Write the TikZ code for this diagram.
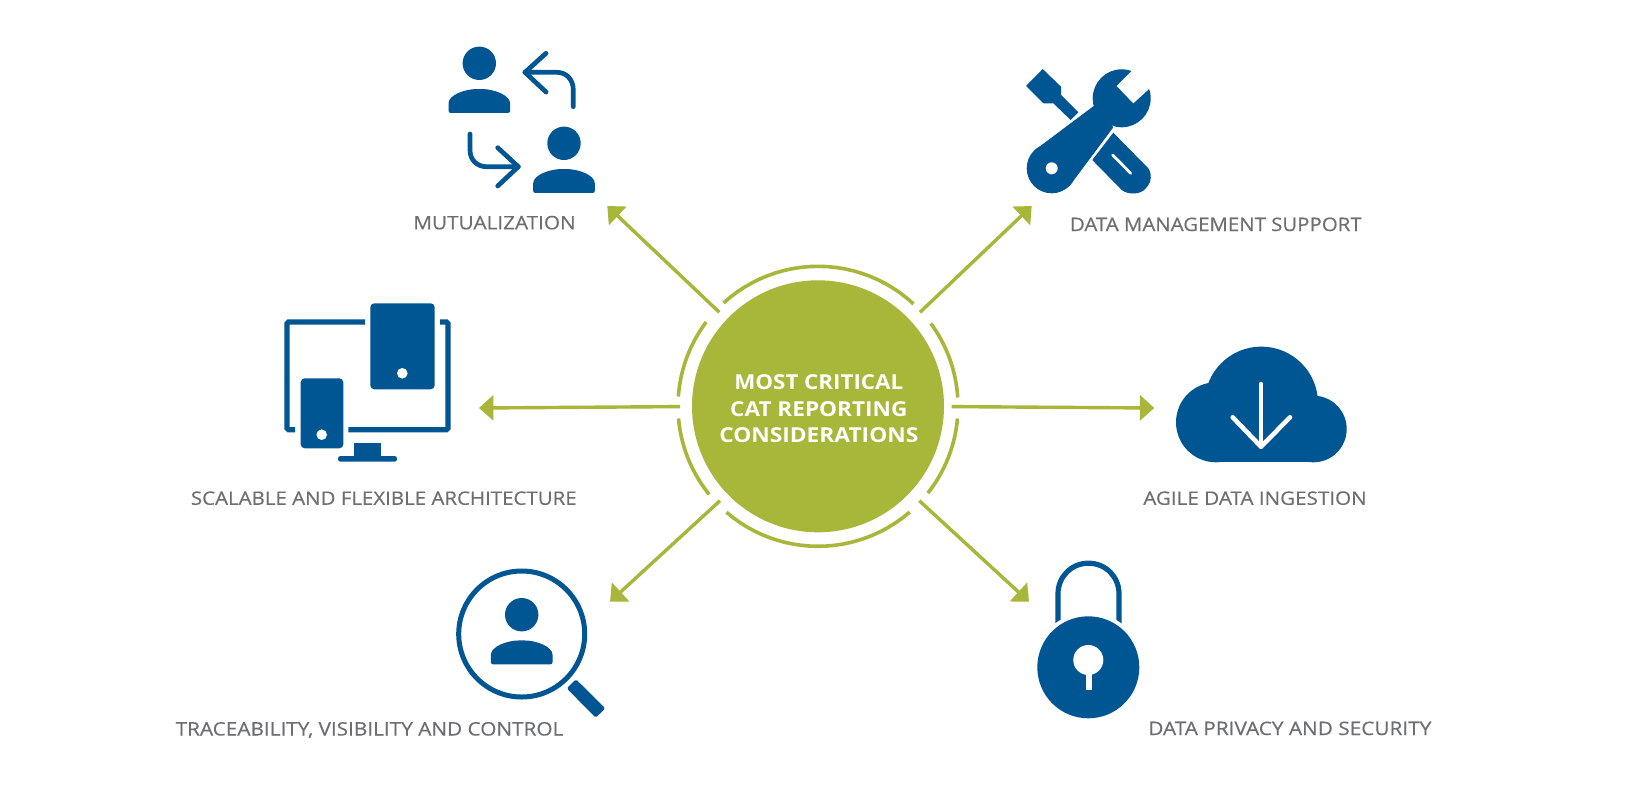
\documentclass[tikz,border=0pt]{standalone}
\usepackage{graphicx}
\usepackage{fontspec}
\setmainfont{Open Sans}
\newfontfamily\lblfont[FakeBold=0.3]{Open Sans}
\usetikzlibrary{arrows.meta}
\definecolor{iconblue}{HTML}{005693}
\definecolor{hubgreen}{HTML}{A8B639}
\definecolor{labelgray}{HTML}{6D6E71}
\newcommand{\fitw}[2]{\resizebox{#1pt}{\height}{#2}}
\tikzset{
  conn/.style={draw=hubgreen,line width=3.4pt,-{Triangle[length=14.4pt,width=25pt]}},
  ringarc/.style={draw=hubgreen,line width=3.6pt},
  hubdisc/.style={circle,fill=hubgreen,minimum size=252pt,inner sep=0pt},
  hubtext/.style={inner sep=0pt,align=center,text=white,font=\fontsize{20.6}{26.4}\selectfont\bfseries},
  lbl/.style={inner sep=0pt,anchor=base,text=labelgray,font=\fontsize{18.6}{22}\selectfont\lblfont},
  iconline/.style={draw=iconblue,line cap=round,line join=round,line width=4.7pt},
  person/.pic={
    \fill[iconblue] (0,0) circle (16.7);
    \fill[iconblue,rounded corners=2pt] (-30.8,49.6) -- (-30.8,42) .. controls (-30.8,32) and (-15,25.7) .. (0,25.7) .. controls (15,25.7) and (30.8,32) .. (30.8,42) -- (30.8,49.6) -- cycle;
  }
}
\begin{document}
\begin{tikzpicture}[x=1pt,y=-1pt]
\useasboundingbox[fill=white] (0,0) rectangle (1630,801);
% hub
\node[hubdisc] (hub) at (818,406.3) {};
\node[hubtext] (hublabel) at (818.8,409) {\fitw{169}{MOST CRITICAL}\\\fitw{177.3}{CAT REPORTING}\\\fitw{199}{CONSIDERATIONS}};
% ring
\foreach \a/\b in {47/132.4,143/176,185/219,229.2/310.9,321.7/355,3.6/36.3}{
  \draw[ringarc] ({818+140*cos(\a)},{406.3-140*sin(\a)}) 
    \foreach \t in {1,...,24}{ -- ({818+140*cos(\a+(\b-\a)*\t/24)},{406.3-140*sin(\a+(\b-\a)*\t/24)}) };
}
% arrow end points
\coordinate (sUL) at (719.3,312.3); \coordinate (tUL) at (607.3,206);
\coordinate (sUR) at (920,312.3);   \coordinate (tUR) at (1031.7,206);
\coordinate (sL) at (680,406.6);    \coordinate (tL) at (479,408);
\coordinate (sR) at (951.7,406.6);  \coordinate (tR) at (1154.3,408);
\coordinate (sLL) at (720,500.7);   \coordinate (tLL) at (610,601.7);
\coordinate (sLR) at (919.3,500.7); \coordinate (tLR) at (1029,601.7);
\foreach \p in {UL,UR,L,R,LL,LR}{ \draw[conn] (s\p) -- (t\p); }
% mutualization
\pic (p1) at (479.3,63.3) {person};
\pic (p2) at (564,143.3) {person};
\draw[iconline] (573.3,106.7) -- (573.3,90) .. controls (573.3,79) and (566,72.3) .. (556.7,72.3) -- (525,72.3);
\draw[iconline] (546,53.3) -- (525,72.3) -- (546,92);
\draw[iconline] (470,134) -- (470,150) .. controls (470,160) and (477,166.7) .. (486.7,166.7) -- (518.3,166.7);
\draw[iconline] (497.7,147.7) -- (518.3,166.7) -- (497.7,186);
% tools
\fill[iconblue] (1042.7,69) -- (1026,86) -- (1043.3,103.3) -- (1053.3,103.3) -- (1070.7,120) -- (1078.3,112.3) -- (1061,95) -- (1061,86.7) -- cycle;
\fill[iconblue] (1113.3,132.7) -- (1092.3,160) -- (1121.7,190) .. controls (1128,195) and (1141,195) .. (1146,188) .. controls (1152,182) and (1152,173) .. (1148.3,168.3) -- cycle;
\draw[white,line width=2.8pt,line cap=round] (1112.7,155) -- (1130.7,173.3);
\fill[iconblue] (1121.7,98.3) circle (29);
\fill[iconblue] (1095,105) -- (1035,150) -- (1069.5,186) -- (1113.3,127.3) -- cycle;
\fill[iconblue] (1051.7,168.3) circle (25);
\fill[white] (1131.7,71) -- (1116.7,86) -- (1133.3,103.3) -- (1149,89) -- (1156,70) -- (1135,62) -- cycle;
\fill[white] (1051.7,168.3) circle (6);
% devices
\begin{scope}[draw=iconblue,line width=5.3pt,rounded corners=1.5pt]
\draw (365,322) -- (287,322) -- (287,429.7) -- (295,429.7);
\draw (440,322) -- (448,322) -- (448,429.7) -- (348.3,429.7);
\end{scope}
\fill[iconblue,rounded corners=4pt] (370.3,303.3) rectangle (434.7,389.3);
\fill[white] (402.3,373.3) circle (5.3);
\fill[iconblue,rounded corners=4pt] (300.7,378.3) rectangle (343.3,448.3);
\fill[white] (321.7,434.7) circle (5.3);
\fill[iconblue] (354,442.7) rectangle (381,457);
\fill[iconblue,rounded corners=2.5pt] (338,456) rectangle (397,461.7);
% cloud
\fill[iconblue] (1261.3,403.3) circle (56.7);
\fill[iconblue] (1216,422.3) circle (40);
\fill[iconblue] (1313.4,429) circle (33.3);
\fill[iconblue] (1216,400) rectangle (1313.4,462.3);
\draw[white,line width=4.6pt,line cap=round,line join=round] (1261,384) -- (1261,446.7);
\draw[white,line width=4.6pt,line cap=round,line join=round] (1232.7,417.3) -- (1261,446.7) -- (1290,417.3);
% magnifier
\draw[iconblue,line width=5pt] (521.7,634) circle (63);
\pic (p3) at (521.7,614.7) {person};
\fill[iconblue,rounded corners=1.5pt] (576,679.3) -- (566.7,688.3) -- (595.7,717.7) -- (605.3,708.3) -- cycle;
% lock
\draw[iconblue,line width=5.2pt] (1058,640) -- (1058,593.7) .. controls (1058,576.9) and (1071.2,563.2) .. (1088.5,563.2) .. controls (1105.8,563.2) and (1119,576.9) .. (1119,593.7) -- (1119,640);
\fill[white] (1088.3,667.3) circle (55);
\fill[iconblue] (1088.3,667.3) circle (51);
\fill[white] (1088.3,660) circle (15);
\fill[white] (1086,665) rectangle (1091.7,690);
% labels
\node[lbl] (mut) at (494.5,229.3) {\fitw{162.4}{MUTUALIZATION}};
\node[lbl] (dms) at (1215.8,231) {\fitw{291.7}{DATA MANAGEMENT SUPPORT}};
\node[lbl] (sfa) at (383.8,504.8) {\fitw{385.7}{SCALABLE AND FLEXIBLE ARCHITECTURE}};
\node[lbl] (adi) at (1255,504.8) {\fitw{223.4}{AGILE DATA INGESTION}};
\node[lbl] (tvc) at (369.5,735.5) {\fitw{387.6}{TRACEABILITY, VISIBILITY AND CONTROL}};
\node[lbl] (dps) at (1289.8,735) {\fitw{283}{DATA PRIVACY AND SECURITY}};
\end{tikzpicture}
\end{document}
